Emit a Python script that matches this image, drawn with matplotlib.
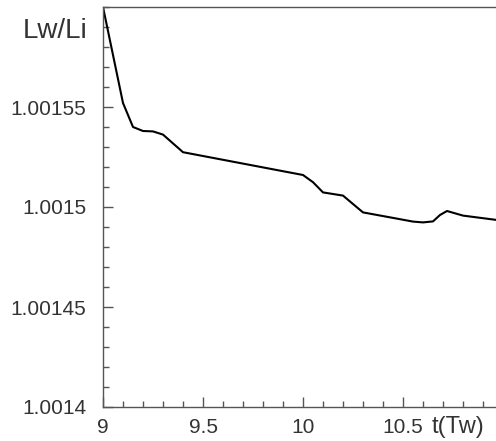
import numpy as np
import matplotlib
matplotlib.use("Agg")
import matplotlib.pyplot as plt
from matplotlib.ticker import FixedLocator

# time in units of Tw, and the Lw/Li ratio
t = [9.0, 9.1, 9.15, 9.2, 9.25, 9.3, 9.4, 10.0, 10.05, 10.1, 10.2, 10.3,
     10.48, 10.55, 10.6, 10.65, 10.685, 10.72, 10.8, 10.97]
ratio = [1.0016, 1.001552, 1.00154, 1.001538, 1.0015378, 1.0015362, 1.0015274,
         1.001516, 1.0015124, 1.0015073, 1.0015057, 1.0014973,
         1.001494, 1.0014927, 1.0014923, 1.0014928, 1.001496, 1.001498,
         1.0014957, 1.0014935]

x_major = [9, 9.5, 10, 10.5]
x_labels = ["9", "9.5", "10", "10.5"]
y_major = [1.0014, 1.00145, 1.0015, 1.00155]
y_labels = ["1.0014", "1.00145", "1.0015", "1.00155"]

plt.rcParams['font.family'] = ['Liberation Sans', 'DejaVu Sans']
txt_color = '#333333'
ax_color = '#555555'

fig = plt.figure(figsize=(4.96, 4.41), dpi=100)
ax = fig.add_axes([103 / 496, 34 / 441, 393 / 496, 400 / 441])

ax.plot(t, ratio, color='black', lw=1.5)

ax.set_xlim(9, 10.965)
ax.set_ylim(1.0014, 1.0016)

ax.spines['right'].set_visible(False)
for side in ['left', 'bottom', 'top']:
    ax.spines[side].set_color(ax_color)
    ax.spines[side].set_linewidth(1.0)

ax.xaxis.set_major_locator(FixedLocator(x_major))
ax.xaxis.set_minor_locator(FixedLocator(
    [v for v in np.round(np.arange(9.1, 10.97, 0.1), 2) if v not in x_major]))
ax.yaxis.set_major_locator(FixedLocator(y_major))
ax.yaxis.set_minor_locator(FixedLocator(
    [v for v in np.round(np.arange(1.00141, 1.0016, 0.00001), 6) if v not in y_major]))
ax.set_xticklabels(x_labels)
ax.set_yticklabels(y_labels)

ax.tick_params(which='major', direction='in', length=7, width=1, color=ax_color,
               labelsize=15, labelcolor=txt_color)
ax.tick_params(which='minor', direction='in', length=4, width=1, color=ax_color)
ax.tick_params(axis='x', which='major', pad=8)
ax.tick_params(axis='y', which='major', pad=12)

fig.text(55 / 496, 1 - 31 / 441, "Lw/Li", fontsize=20, color=txt_color,
         ha='center', va='center')
fig.text(458 / 496, 1 - 427 / 441, "t(Tw)", fontsize=17, color=txt_color,
         ha='center', va='center')

fig.savefig("out.png", dpi=100)
